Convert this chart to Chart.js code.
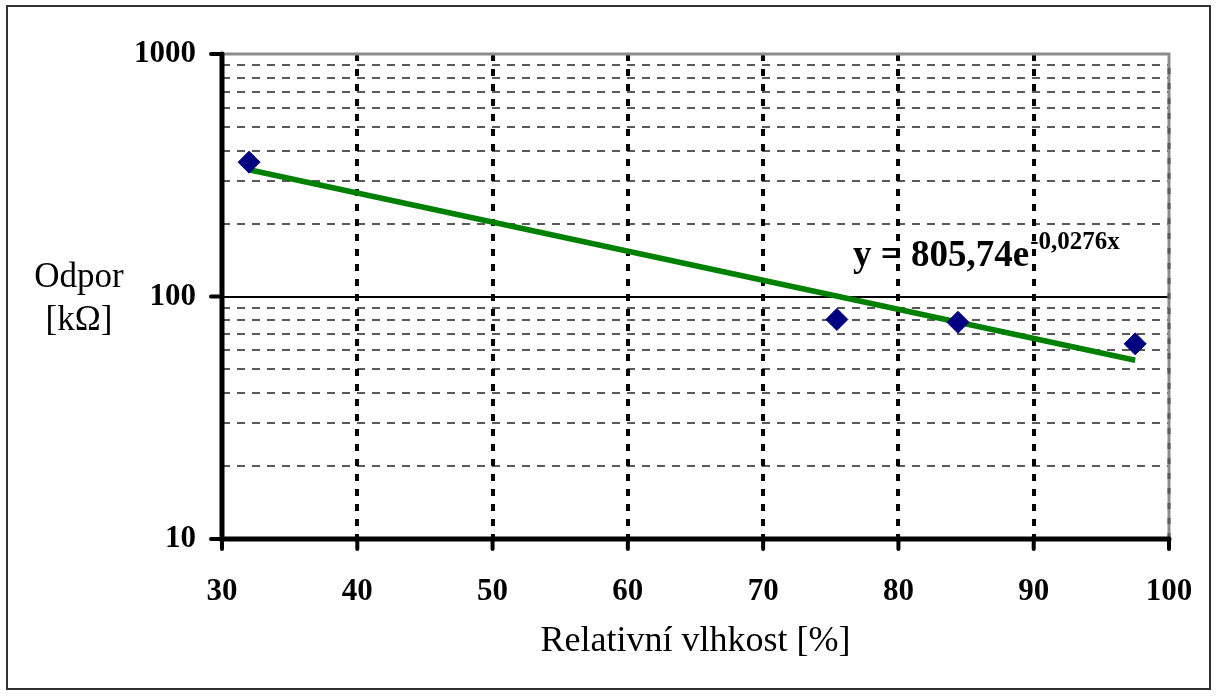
<!DOCTYPE html>
<html>
<head>
<meta charset="utf-8">
<title>Odpor vs. relativní vlhkost</title>
<script src="https://cdn.jsdelivr.net/npm/chart.js@4.4.1/dist/chart.umd.min.js"></script>
<style>
  html, body { margin: 0; padding: 0; background: #fff; }
  canvas { display: block; }
</style>
</head>
<body>
<canvas id="odporChart" width="1218" height="696"></canvas>
<script>
// measured points
const humidity = [32, 75.45, 84.4, 97.5];
const resistance = [358, 80.4, 78.3, 63.8];

// exponential trend y = 805,74e^-0,0276x, straight on the log axis
const trendX = [32, 97.5];
const trendY = [333, 54.6];

const xTicks = [30, 40, 50, 60, 70, 80, 90, 100];
const yTicks = [10, 100, 1000];
const yMinor = [20, 30, 40, 50, 60, 70, 80, 90, 200, 300, 400, 500, 600, 700, 800, 900];

const serif = "'Liberation Serif', 'Times New Roman', serif";

// gridlines, axes and texts drawn by hand (Excel look)
const excelFrame = {
  id: "excelFrame",
  beforeDatasetsDraw(chart) {
    const { ctx, chartArea: a, scales } = chart;
    const x = scales.x, y = scales.y;
    ctx.save();

    // minor horizontal lines
    ctx.strokeStyle = "#5a5a5a";
    ctx.lineWidth = 2;
    ctx.setLineDash([8, 7]);
    yMinor.forEach(v => {
      const py = Math.round(y.getPixelForValue(v));
      ctx.beginPath();
      ctx.moveTo(a.left, py);
      ctx.lineTo(a.right, py);
      ctx.stroke();
    });

    // vertical dotted lines
    ctx.strokeStyle = "#000";
    ctx.lineWidth = 4;
    ctx.setLineDash([7, 8]);
    xTicks.slice(1, -1).forEach(v => {
      const px = Math.round(x.getPixelForValue(v));
      ctx.beginPath();
      ctx.moveTo(px, a.top);
      ctx.lineTo(px, a.bottom);
      ctx.stroke();
    });
    ctx.setLineDash([]);

    // major line at 100
    ctx.lineWidth = 2;
    const p100 = Math.round(y.getPixelForValue(100));
    ctx.beginPath();
    ctx.moveTo(a.left, p100);
    ctx.lineTo(a.right, p100);
    ctx.stroke();

    // top and right edges
    ctx.strokeStyle = "#8c8c8c";
    ctx.lineWidth = 3;
    ctx.beginPath();
    ctx.moveTo(a.left, a.top);
    ctx.lineTo(a.right, a.top);
    ctx.lineTo(a.right, a.bottom);
    ctx.stroke();
    ctx.strokeStyle = "#5a5a5a";
    ctx.lineWidth = 3;
    ctx.setLineDash([6, 9]);
    ctx.beginPath();
    ctx.moveTo(a.right, a.top + 14);
    ctx.lineTo(a.right, a.bottom);
    ctx.stroke();
    ctx.setLineDash([]);

    // axes
    ctx.strokeStyle = "#000";
    ctx.lineWidth = 5;
    ctx.lineCap = "round";
    ctx.beginPath();
    ctx.moveTo(a.left, a.top);
    ctx.lineTo(a.left, a.bottom);
    ctx.lineTo(a.right, a.bottom);
    ctx.stroke();

    // tick marks
    ctx.lineWidth = 4;
    xTicks.forEach(v => {
      const px = x.getPixelForValue(v);
      ctx.beginPath();
      ctx.moveTo(px, a.bottom);
      ctx.lineTo(px, a.bottom + 10);
      ctx.stroke();
    });
    yTicks.forEach(v => {
      const py = y.getPixelForValue(v);
      ctx.beginPath();
      ctx.moveTo(a.left - 11, py);
      ctx.lineTo(a.left, py);
      ctx.stroke();
    });
    ctx.restore();
  },
  afterDraw(chart) {
    const { ctx } = chart;
    ctx.save();

    // outer border
    ctx.strokeStyle = "#333";
    ctx.lineWidth = 2;
    ctx.strokeRect(7, 6, 1203, 683);

    // y title, horizontal on two lines
    ctx.fillStyle = "#000";
    ctx.textAlign = "center";
    ctx.textBaseline = "alphabetic";
    ctx.font = "35px " + serif;
    ctx.fillText("Odpor", 79, 287);
    ctx.fillText("[kΩ]", 79, 330);

    // trend equation
    ctx.textAlign = "left";
    ctx.font = "bold 37px " + serif;
    const eq = "y = 805,74e";
    ctx.fillText(eq, 853, 266);
    const w = ctx.measureText(eq).width;
    ctx.font = "bold 25px " + serif;
    ctx.fillText("-0,0276x", 853 + w + 1, 249);
    ctx.restore();
  }
};

new Chart(document.getElementById("odporChart"), {
  type: "scatter",
  data: {
    datasets: [
      {
        label: "trend",
        data: trendX.map((v, i) => ({ x: v, y: trendY[i] })),
        showLine: true,
        borderColor: "#008000",
        borderWidth: 5.5,
        pointRadius: 0,
        order: 2
      },
      {
        label: "Odpor",
        data: humidity.map((v, i) => ({ x: v, y: resistance[i] })),
        pointStyle: "rectRot",
        pointRadius: 11,
        backgroundColor: "#000080",
        borderColor: "#000080",
        borderWidth: 1,
        order: 1
      }
    ]
  },
  options: {
    responsive: false,
    animation: false,
    layout: { padding: { left: 0, top: 54, right: 49, bottom: 0 } },
    plugins: {
      legend: { display: false },
      tooltip: { enabled: false }
    },
    scales: {
      x: {
        type: "linear",
        min: 30,
        max: 100,
        afterFit: s => {
          s.height = 157;
          s.paddingLeft = 0;
          s.paddingRight = 0;
        },
        afterBuildTicks: s => { s.ticks = xTicks.map(v => ({ value: v })); },
        grid: { display: false, drawTicks: false },
        border: { display: false },
        ticks: {
          color: "#000",
          padding: 34,
          font: { family: serif, size: 31, weight: "bold" }
        },
        title: {
          display: true,
          text: "Relativní vlhkost [%]",
          color: "#000",
          font: { family: serif, size: 36 },
          padding: { top: 0, bottom: 33 }
        }
      },
      y: {
        type: "logarithmic",
        min: 10,
        max: 1000,
        afterFit: s => {
          s.width = 222;
          s.paddingTop = 0;
          s.paddingBottom = 0;
        },
        afterBuildTicks: s => { s.ticks = yTicks.map(v => ({ value: v })); },
        grid: { display: false, drawTicks: false },
        border: { display: false },
        ticks: {
          color: "#000",
          padding: 26,
          callback: v => String(v),
          font: { family: serif, size: 31, weight: "bold" }
        }
      }
    }
  },
  plugins: [excelFrame]
});
</script>
</body>
</html>
